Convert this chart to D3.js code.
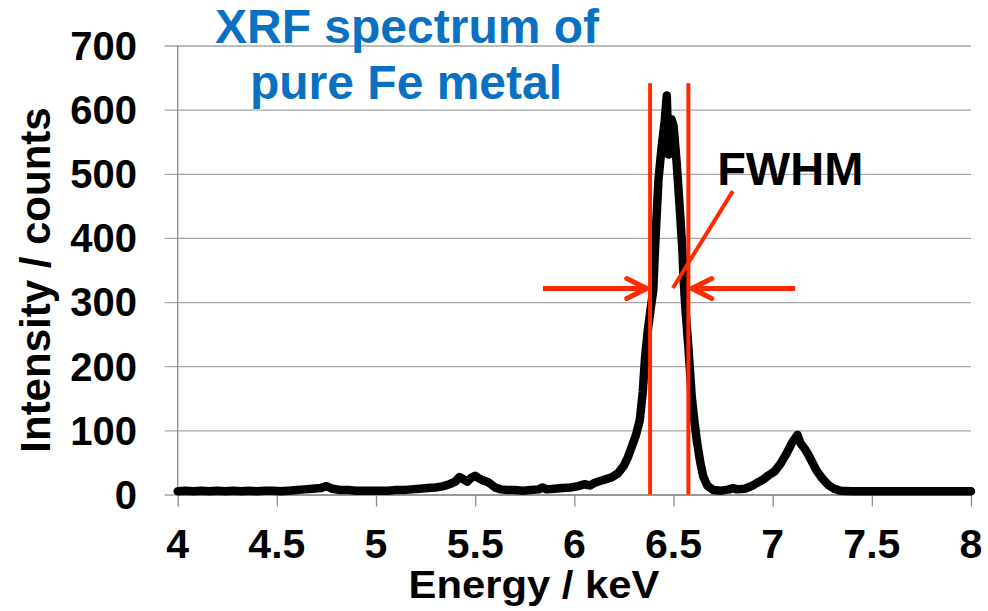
<!DOCTYPE html>
<html>
<head>
<meta charset="utf-8">
<script src="https://cdn.jsdelivr.net/npm/d3@7"></script>
<style>
  html, body { margin: 0; padding: 0; background: #fff; }
  svg { display: block; font-family: "Liberation Sans", Arial, sans-serif; font-weight: bold; }
</style>
</head>
<body>
<svg id="chart" width="988" height="611"></svg>
<script>
// Fe XRF spectrum: energy (keV) and intensity (counts)
const energy = [
  4.00, 4.04, 4.08, 4.12, 4.16, 4.20, 4.24, 4.28, 4.32, 4.36, 4.40, 4.44, 4.48, 4.52, 4.56, 4.60,
  4.64, 4.68, 4.72, 4.75, 4.78, 4.82, 4.86, 4.90, 4.94, 4.98, 5.02, 5.06, 5.10, 5.14, 5.18, 5.22,
  5.26, 5.30, 5.34, 5.37, 5.40, 5.42, 5.44, 5.46, 5.48, 5.50, 5.52, 5.54, 5.56, 5.58, 5.60, 5.63,
  5.66, 5.70, 5.74, 5.78, 5.82, 5.84, 5.86, 5.90, 5.94, 5.98, 6.02, 6.05, 6.08, 6.10, 6.13, 6.16,
  6.19, 6.22, 6.25, 6.27, 6.29, 6.31, 6.33, 6.345, 6.357, 6.37, 6.385, 6.398, 6.407, 6.424, 6.44, 6.455,
  6.466, 6.475, 6.49, 6.50, 6.516, 6.533, 6.545, 6.55, 6.56, 6.575, 6.592, 6.605, 6.617, 6.635, 6.65, 6.67,
  6.70, 6.74, 6.78, 6.80, 6.82, 6.86, 6.90, 6.92, 6.95, 6.98, 7.01, 7.04, 7.07, 7.10, 7.125, 7.14,
  7.16, 7.18, 7.20, 7.22, 7.25, 7.28, 7.31, 7.34, 7.40, 7.46, 7.52, 7.58, 7.64, 7.70, 7.76, 7.82,
  7.88, 7.94, 8.00
];
const counts = [
  5, 6, 5, 6, 5, 6, 5, 6, 5, 6, 5, 6, 6, 5, 6, 7,
  8, 9, 10, 13, 9, 7, 7, 6, 6, 6, 6, 6, 7, 7, 8, 9,
  10, 11, 13, 16, 20, 27, 24, 20, 26, 29, 25, 22, 20, 16, 11, 8,
  7, 7, 6, 7, 8, 11, 8, 9, 10, 11, 13, 16, 14, 18, 21, 24,
  27, 33, 45, 58, 75, 92, 116, 160, 215, 255, 290, 319, 386, 490, 542, 580,
  622, 530, 585, 575, 517, 439, 380, 340, 290, 230, 152, 115, 85, 50, 28, 14,
  7, 6, 8, 10, 8, 9, 14, 18, 23, 30, 36, 48, 64, 82, 93, 80,
  72, 62, 50, 38, 25, 15, 9, 6, 5, 5, 5, 5, 5, 5, 5, 5,
  5, 5, 5
];
const xTicks = [4, 4.5, 5, 5.5, 6, 6.5, 7, 7.5, 8];
const yTicks = [0, 100, 200, 300, 400, 500, 600, 700];

// FWHM markers: edges of the half-maximum width, and arrow level
const fwhmEdges = [6.382, 6.575];
const fwhmLineTop = 641;
const arrowLevel = 321;
const arrowLeftStart = 5.842;
const arrowRightEnd = 7.113;
const pointerFrom = [6.799, 473];
const pointerTo = [6.497, 322];
const fwhmLabelAt = [6.72, 482];

const svg = d3.select("#chart");
const x = d3.scaleLinear().domain([4, 8]).range([177.7, 971]);
const y = d3.scaleLinear().domain([0, 700]).range([494.5, 45.5]);

const grid = "#a6a6a6";
const axisGrey = "#8c8c8c";
const red = "#ff2a00";
const tickOut = 13;

// horizontal gridlines, reaching a little left of the axis as tick marks
svg.append("g")
  .attr("transform", `translate(${x(4) - tickOut},0)`)
  .call(d3.axisRight(y).tickValues(yTicks).tickSize(x(8) - x(4) + tickOut).tickFormat(""))
  .call(g => g.select(".domain").remove())
  .call(g => g.selectAll("line").attr("stroke", grid).attr("stroke-width", 1.3));

// y axis line
svg.append("line")
  .attr("x1", x(4)).attr("x2", x(4)).attr("y1", y(700)).attr("y2", y(0))
  .attr("stroke", axisGrey).attr("stroke-width", 1.3);

// x axis with downward ticks
const xAxis = svg.append("g")
  .attr("transform", `translate(0,${y(0)})`)
  .call(d3.axisBottom(x).tickValues(xTicks).tickSize(12).tickSizeOuter(0).tickFormat(""));
xAxis.select(".domain").attr("stroke", axisGrey).attr("stroke-width", 1.3);
xAxis.selectAll("line").attr("stroke", axisGrey).attr("stroke-width", 1.3);

// y tick labels
svg.append("g").selectAll("text").data(yTicks).join("text")
  .attr("x", 137).attr("y", d => y(d)).attr("dy", "0.36em")
  .attr("text-anchor", "end").attr("font-size", 40).attr("fill", "#000")
  .text(d => d);

// x tick labels
svg.append("g").selectAll("text").data(xTicks).join("text")
  .attr("x", d => x(d)).attr("y", 558)
  .attr("text-anchor", "middle").attr("font-size", 41).attr("fill", "#000")
  .text(d => d);

// axis titles
svg.append("text")
  .attr("transform", "translate(534,598) scale(1.1,1)").attr("text-anchor", "middle")
  .attr("font-size", 38).attr("fill", "#000").text("Energy / keV");
svg.append("text")
  .attr("transform", "translate(50,280) rotate(-90)").attr("text-anchor", "middle")
  .attr("font-size", 42).attr("fill", "#000").text("Intensity / counts");

// spectrum
const pts = energy.map((e, i) => [e, counts[i]]);
svg.append("path")
  .datum(pts)
  .attr("fill", "none").attr("stroke", "#000").attr("stroke-width", 8.5)
  .attr("stroke-linejoin", "round").attr("stroke-linecap", "round")
  .attr("d", d3.line().x(d => x(d[0])).y(d => y(d[1])));

// FWHM vertical edge lines
svg.append("g").selectAll("line").data(fwhmEdges).join("line")
  .attr("x1", d => x(d)).attr("x2", d => x(d))
  .attr("y1", y(fwhmLineTop)).attr("y2", y(0))
  .attr("stroke", red).attr("stroke-width", 4);

// arrows pointing at the edges
function arrow(from, tip) {
  const dir = Math.sign(x(tip) - x(from));
  const ty = y(arrowLevel);
  svg.append("line")
    .attr("x1", x(from)).attr("x2", x(tip) - dir * 2)
    .attr("y1", ty).attr("y2", ty)
    .attr("stroke", red).attr("stroke-width", 5);
  svg.append("path")
    .attr("d", `M${x(tip) - dir * 20},${ty - 10} L${x(tip)},${ty} L${x(tip) - dir * 20},${ty + 10}`)
    .attr("fill", "none").attr("stroke", red).attr("stroke-width", 5)
    .attr("stroke-linecap", "round").attr("stroke-linejoin", "miter");
}
arrow(arrowLeftStart, fwhmEdges[0] - 0.017);
arrow(arrowRightEnd, fwhmEdges[1] + 0.017);

// pointer from the label to the peak width
svg.append("line")
  .attr("x1", x(pointerFrom[0])).attr("y1", y(pointerFrom[1]))
  .attr("x2", x(pointerTo[0])).attr("y2", y(pointerTo[1]))
  .attr("stroke", red).attr("stroke-width", 4);

svg.append("text")
  .attr("x", x(fwhmLabelAt[0])).attr("y", y(fwhmLabelAt[1]))
  .attr("font-size", 47).attr("fill", "#000").text("FWHM");

// title
const title = svg.append("text").attr("text-anchor", "middle")
  .attr("font-size", 48).attr("fill", "#0a70c2");
title.append("tspan").attr("x", 407).attr("y", 43).text("XRF spectrum of");
title.append("tspan").attr("x", 406).attr("y", 99).text("pure Fe metal");
</script>
</body>
</html>
